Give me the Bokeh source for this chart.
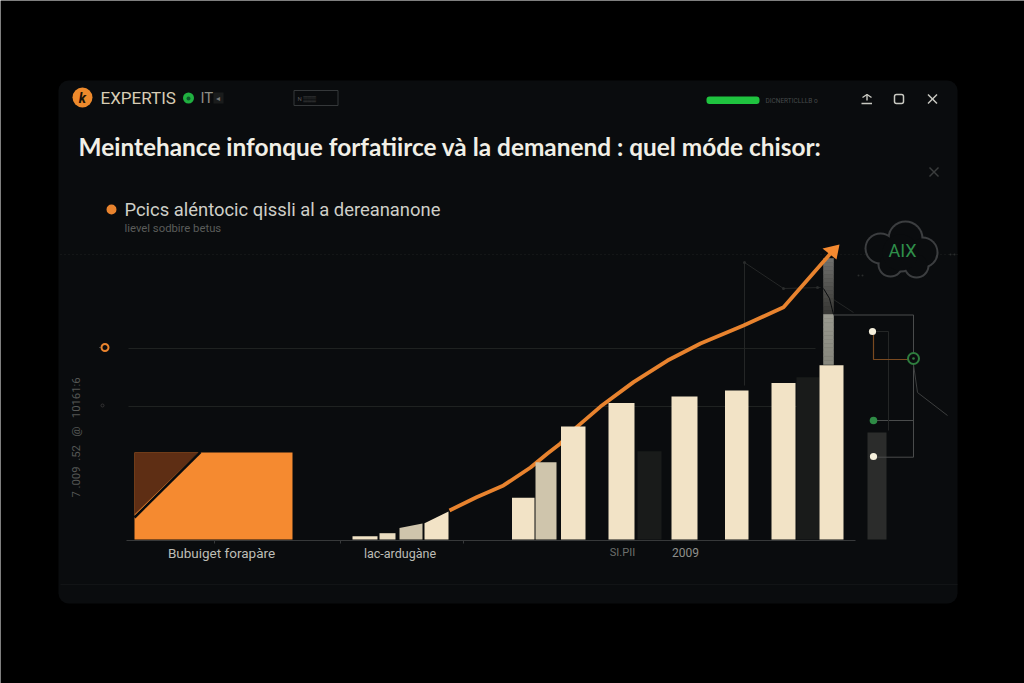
import numpy as np
from bokeh.plotting import figure
from bokeh.models import Range1d, LinearAxis
from bokeh.core.properties import value
from bokeh.embed import file_html
from bokeh.resources import INLINE

# ---- chart data (100 = upper grid line) ----
bar_left   = [511.5, 535, 560.5, 608, 671, 724.5, 771, 819]
bar_right  = [534, 556, 585, 634, 697, 748, 795, 843]
bar_values = [21.8, 40.5, 59.2, 71.5, 74.9, 78.0, 82.0, 91.2]
bar_colors = ["#f2e3c6", "#cfc5ac", "#f2e3c6", "#f2e3c6", "#f2e3c6", "#f2e3c6", "#f2e3c6", "#f2e3c6"]
dark_left   = [637, 796, 867]
dark_right  = [661, 819, 886]
dark_values = [46.2, 85.0, 56.0]
dark_colors = ["#191b1a", "#191b1a", "#2b2c2b"]
orange_value = 45.5
small_left  = [352, 379, 399, 424]
small_right = [377, 395, 422, 448]
small_start = [1.7, 3.3, 6.0, 8.5]
small_end   = [1.7, 3.3, 8.4, 14.7]
small_colors = ["#f2e3c6", "#e9dcc0", "#cfc5ac", "#f2e3c6"]
trend_x = [449, 476, 503, 530, 547, 560, 577, 600, 633, 667, 700, 743, 783, 830]
trend_v = [15.2, 22.1, 28.3, 37.7, 45.0, 50.3, 59.2, 69.6, 82.4, 93.7, 102.6, 112.0, 121.6, 149.7]
x_labels = ["Bubuiget forapàre", "lac-ardugàne", "SI.PII", "2009"]
title = "Meintehance infonque forfatiirce và la demanend : quel móde chisor:"
legend_text = "Pcics aléntocic qissli al a dereananone"
sub_text = "lievel sodbire betus"
axis_text = "7 .009\u00a0\u00a0.52\u00a0\u00a0\u00a0@\u00a0\u00a0\u00a010161:6"

W, H = 1024, 683
PANEL = "#0a0c0e"
p = figure(width=W, height=H, output_backend="svg", toolbar_location=None,
           x_range=Range1d(0, W), y_range=Range1d(H, 0),
           min_border=0, outline_line_color=None,
           background_fill_color="#000000", border_fill_color="#000000")
p.axis.visible = False
p.grid.visible = False
# value scale: 0 on the base line, 100 on the upper grid line
base, top100 = 539.0, 348.0
k = 100.0 / (base - top100)
p.extra_y_ranges = {"val": Range1d((base - H) * k, base * k)}
hidden = LinearAxis(y_range_name="val", visible=False)
p.add_layout(hidden, "right")

font = value("Roboto")
def txt(x, y, s, size, color, align="left", style="normal", angle=0, f=font):
    p.text([x], [y], text=[s], text_font=f, text_font_size=f"{size}px", text_color=color,
           text_align=align, text_baseline="middle", text_font_style=style, angle=angle)

# panel
p.quad(left=[58], right=[957], top=[80], bottom=[603], fill_color=PANEL, line_color=None,
       border_radius=10)
# faint rules
p.segment([128, 128], [348, 406], [815, 815], [348, 406], line_color="#1f2221", line_width=1)
p.segment([60], [254], [957], [254], line_color="#1e2120", line_width=1, line_dash="1 3")
p.segment([60], [584], [957], [584], line_color="#121416", line_width=1)
p.segment([126], [540], [855], [540], line_color="#37393a", line_width=1.2)
p.segment([214, 340, 463], [540, 540, 540], [214, 340, 463], [543, 543, 543], line_color="#37393a", line_width=1)

# thin network behind
p.multi_line([[744, 744], [744, 783, 820], [833, 853]], [[385, 262], [262, 288, 287], [299, 312]],
             line_color="#242626", line_width=1)
p.circle([744, 783, 817], [262, 288, 287], radius=1.5, fill_color="#2a2c2c", line_color=None)

# gray column above the last bar
edges = np.linspace(258, 314, 15)
for i in range(14):
    g = int(112 - 56 * i / 13)
    c = f"#{g:02x}{g:02x}{g-3:02x}"
    p.quad(left=[823], right=[833], top=[edges[i]], bottom=[edges[i + 1]],
           fill_color=c, line_color=c, line_width=0.6)
edges = np.linspace(314, 364, 13)
for i in range(12):
    g = int(154 - 18 * i / 11)
    c = f"#{g:02x}{g:02x}{g-10:02x}"
    p.quad(left=[823], right=[833], top=[edges[i]], bottom=[edges[i + 1]],
           fill_color=c, line_color=c, line_width=0.6)
p.line([823, 829, 833], [288, 298, 314], line_color=PANEL, line_width=1)

# trend line (behind the bars)
p.line(trend_x, trend_v, y_range_name="val", line_color="#e8832e", line_width=3.8, line_join="round")

# bars
p.quad(left=[134], right=[292], bottom=[0], top=[orange_value], y_range_name="val",
       fill_color="#f58a30", line_color=None)
p.patch([134, 198, 134], [452, 452, 514], fill_color="#5e2e14", line_color=None)
p.line([134, 200], [517, 451.5], line_color=PANEL, line_width=2.5)
p.quad(left=dark_left, right=dark_right, bottom=0, top=dark_values, y_range_name="val",
       fill_color=dark_colors, line_color=None)
p.quad(left=bar_left, right=bar_right, bottom=0, top=bar_values, y_range_name="val",
       fill_color=bar_colors, line_color=None)
for l, r, s, e, c in zip(small_left, small_right, small_start, small_end, small_colors):
    p.patch([l, l, r, r], [0, s, e, 0], y_range_name="val", fill_color=c, line_color=None)

# arrow head
p.patch([822, 839, 836], [248, 244, 259], fill_color="#f58a30", line_color=None)

# circuit on the right
p.multi_line([[833, 913, 913, 873], [873, 913]], [[314.5, 314.5, 456.7, 456.7], [420, 420]],
             line_color="#4a4c4c", line_width=1)
p.multi_line([[876, 888, 888]], [[331, 331, 430]], line_color="#242626", line_width=1)
p.line([873, 873, 908], [334, 359, 359], line_color="#7a4a20", line_width=1.2)
p.line([913, 917, 947], [364, 392, 415], line_color="#3c3e3e", line_width=1)
p.circle([913], [358], radius=5.5, fill_color=PANEL, line_color="#2e7d3e", line_width=2)
p.circle([913], [358], radius=1.3, fill_color="#2e7d3e", line_color=None)
p.circle([873], [420], radius=3.8, fill_color="#2e8b45", line_color=None)
p.circle([872, 873], [331, 456], radius=3.6, fill_color="#f5f0dc", line_color=None)

# cloud
cx = [905, 880, 922, 890, 916, 900]
cy = [238, 248, 252, 264, 265, 252]
cr = [18, 16, 16, 13, 13, 20]
p.circle(cx, cy, radius=cr, fill_color="#3c3e40", line_color=None)
p.circle(cx, cy, radius=[r - 2 for r in cr], fill_color=PANEL, line_color=None)
txt(902, 250, "AIX", 18, "#2f8f4a", "center")

# header
p.circle([82], [97], radius=10, fill_color="#ee8a2c", line_color=None)
txt(82, 97, "k", 14, "#1a1208", "center", "bold italic")
txt(100, 97.5, "EXPERTIS", 17, "#d8cdb5")
p.circle([188], [97.5], radius=5.5, fill_color="#20b040", line_color=None)
p.circle([188], [98], radius=2, fill_color="#0c5c2a", line_color=None)
txt(200, 97.5, "IT", 15, "#8f8f86")
p.quad(left=[213], right=[223], top=[92], bottom=[103], fill_color="#1a1c1c", line_color=None)
txt(215.5, 98, "◂", 8, "#777")
p.quad(left=[293.5], right=[337.5], top=[90], bottom=[105], fill_color=None, line_color="#35383a")
txt(297, 98, "N ▒▒▒", 6, "#555")
p.quad(left=[706], right=[759], top=[96], bottom=[103.5], fill_color="#1fc33f", line_color=None, border_radius=3)
txt(765, 100.5, "DICNERTICLLLB  o", 6.5, "#45494a")
p.multi_line([[862, 866.5, 871], [866.5, 866.5], [861, 871.5]], [[97, 94, 97], [94, 100], [103, 103]],
             line_color="#c9c9c2", line_width=1.4)
p.quad(left=[894], right=[903], top=[94], bottom=[103], fill_color=None, line_color="#c9c9c2", line_width=1.5, border_radius=2)
p.multi_line([[927.5, 936.5], [927.5, 936.5]], [[94, 103], [103, 94]], line_color="#c9c9c2", line_width=1.5)
p.multi_line([[929, 938], [929, 938]], [[167, 176], [176, 167]], line_color="#3a3d3d", line_width=1.4)

# titles
txt(78, 146, title, 24.4, "#f1efe6", style="bold", f=value("Lato"))
p.circle([111], [209], radius=5, fill_color="#e8832e", line_color=None)
txt(124, 209, legend_text, 18.4, "#cfcfc8")
txt(124, 228, sub_text, 11.3, "#5a5c5a")

# left side
txt(76, 437, axis_text, 11.3, "#555755", "center", angle=np.pi / 2)
p.circle([104.5], [347], radius=3.5, fill_color=None, line_color="#e8832e", line_width=2)
p.segment([99], [347], [100], [347], line_color="#777", line_width=1)
p.circle([102], [405], radius=1.5, fill_color=None, line_color="#333", line_width=1)

# x labels
txt(221, 552.5, x_labels[0], 13.5, "#bdbdb6", "center")
txt(399.5, 552.5, x_labels[1], 12.5, "#bdbdb6", "center")
txt(622, 552, x_labels[2], 11, "#6d6f6c", "center")
txt(685, 552, x_labels[3], 12, "#8f908b", "center")

# specks
p.circle([858, 862, 950, 954], [275, 275, 254, 254], radius=1, fill_color="#2a2c2c", line_color=None)

open("out.html", "w").write(file_html(p, INLINE))
